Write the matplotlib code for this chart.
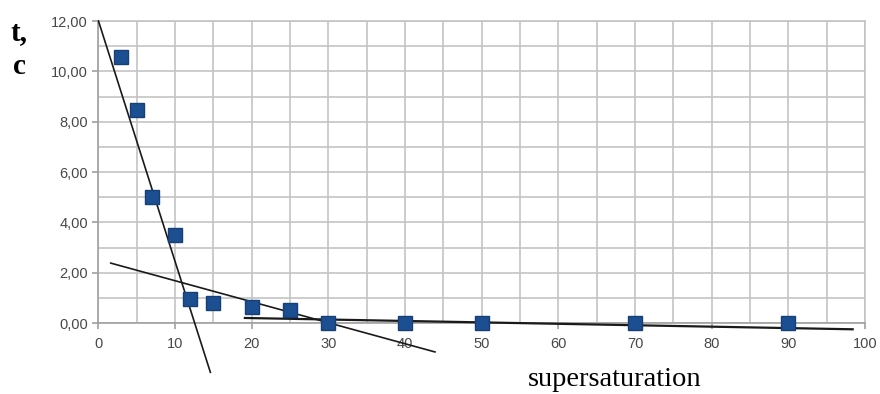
import matplotlib
matplotlib.use("Agg")
import matplotlib.pyplot as plt
from matplotlib.ticker import MultipleLocator, FuncFormatter

# data points
x_pts = [3, 5, 7, 10, 12, 15, 20, 25, 30, 40, 50, 70, 90]
y_pts = [10.55, 8.45, 5.0, 3.5, 0.95, 0.8, 0.65, 0.5, 0.0, 0.0, 0.0, 0.0, 0.0]

# hand-drawn trend lines (endpoints)
line1_x = [0, 14.6]
line1_y = [12.0, -1.96]
line2_x = [1.6, 43.9]
line2_y = [2.38, -1.15]
line3_x = [19.1, 98.4]
line3_y = [0.20, -0.25]

x_ticks = [0, 10, 20, 30, 40, 50, 60, 70, 80, 90, 100]
y_ticks = [0, 2, 4, 6, 8, 10, 12]

fig = plt.figure(figsize=(8.8, 3.94), dpi=100)
ax = fig.add_axes([0.1119, 0.1802, 0.871, 0.7665])
ax.set_xlim(0, 100)
ax.set_ylim(0, 12)

ax.set_xticks(x_ticks)
ax.set_yticks(y_ticks)
ax.xaxis.set_minor_locator(MultipleLocator(5))
ax.yaxis.set_minor_locator(MultipleLocator(1))
ax.yaxis.set_major_formatter(FuncFormatter(lambda v, p: f"{v:.2f}".replace(".", ",")))

grid_c = "#c4c4c4"
ax.grid(True, which="both", color=grid_c, linewidth=1.2, zorder=0)
for s in ["top", "right"]:
    ax.spines[s].set_color(grid_c)
    ax.spines[s].set_linewidth(1.2)
for s in ["left", "bottom"]:
    ax.spines[s].set_color("#a0a0a0")
    ax.spines[s].set_linewidth(1.2)

ax.tick_params(which="major", length=4, width=1.2, color="#a0a0a0",
               labelsize=10.5, labelcolor="#484848")
ax.tick_params(axis="x", which="major", pad=6)
ax.tick_params(which="minor", length=0)
for lab in ax.get_xticklabels() + ax.get_yticklabels():
    lab.set_fontfamily("Liberation Sans")

ax.plot(line1_x, line1_y, color="#1a1a1a", linewidth=1.2, clip_on=False, zorder=3)
ax.plot(line2_x, line2_y, color="#1a1a1a", linewidth=1.2, clip_on=False, zorder=3)
ax.plot(line3_x, line3_y, color="#1a1a1a", linewidth=1.6, clip_on=False, zorder=3)

ax.plot(x_pts, y_pts, linestyle="none", marker="s", markersize=9.5,
        color="#1c4f91", markeredgecolor="#173f75", clip_on=False, zorder=4)

fig.text(0.012, 0.918, "t,", fontsize=21, fontweight="bold",
         family="Liberation Serif", ha="left", va="center")
fig.text(0.015, 0.832, "c", fontsize=21, fontweight="bold",
         family="Liberation Serif", ha="left", va="center")
fig.text(0.699, 0.006, "supersaturation", fontsize=20.5,
         family="Liberation Serif", ha="center", va="bottom")

fig.savefig("out.png", dpi=100)
